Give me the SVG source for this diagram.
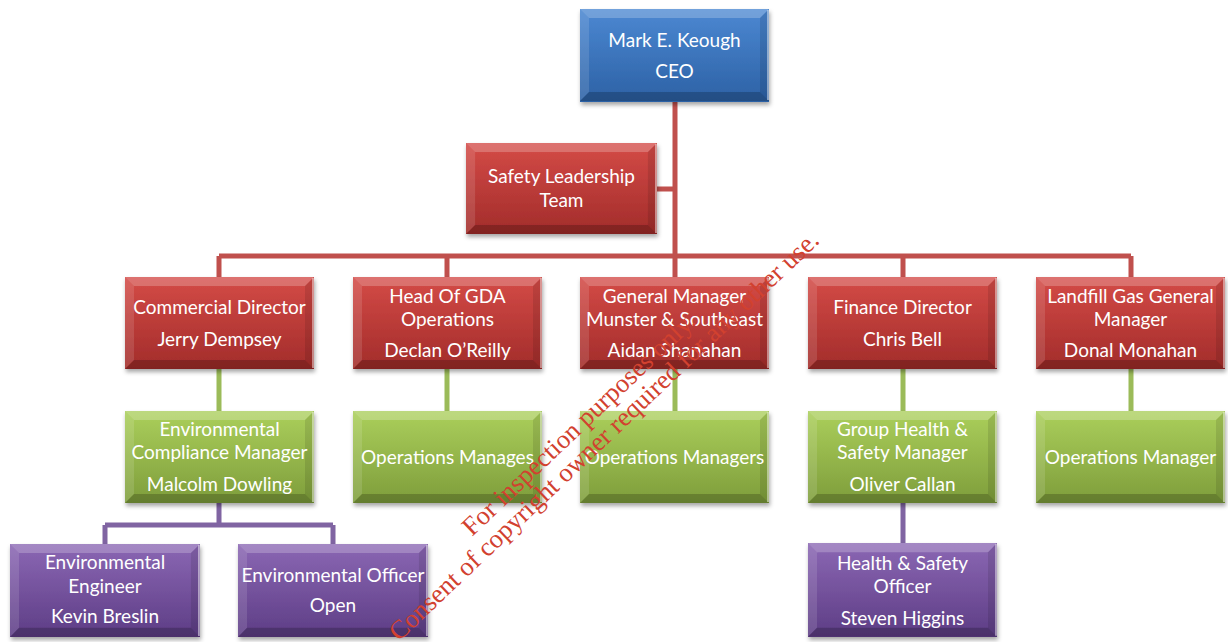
<svg xmlns="http://www.w3.org/2000/svg" width="1228" height="642" viewBox="0 0 1228 642">
<style>
.t{font-family:Lato,"Open Sans","Liberation Sans",sans-serif;font-size:19px;fill:#fff;text-anchor:middle}
.red{stroke:#c0504d;stroke-width:5;fill:none}
.grn{stroke:#9bbb59;stroke-width:5;fill:none}
.pur{stroke:#8064a2;stroke-width:5;fill:none}
.wm{font-family:"Liberation Serif","Times New Roman",serif;font-size:26.4px;fill:#d2412f}
</style>
<defs>
<linearGradient id="gB" x1="0" y1="0" x2="0" y2="1"><stop offset="0" stop-color="#4c88d2"/><stop offset="1" stop-color="#2c61a5"/></linearGradient>
<linearGradient id="gR" x1="0" y1="0" x2="0" y2="1"><stop offset="0" stop-color="#d44b47"/><stop offset="1" stop-color="#a22c2a"/></linearGradient>
<linearGradient id="gG" x1="0" y1="0" x2="0" y2="1"><stop offset="0" stop-color="#abcf5b"/><stop offset="1" stop-color="#7e9d3b"/></linearGradient>
<linearGradient id="gP" x1="0" y1="0" x2="0" y2="1"><stop offset="0" stop-color="#8b67b4"/><stop offset="1" stop-color="#5d3d85"/></linearGradient>
<filter id="sh" x="-10%" y="-10%" width="130%" height="130%"><feDropShadow dx="1" dy="3" stdDeviation="2" flood-color="#000" flood-opacity="0.35"/></filter>
<g id="bev">
<polygon points="0,0 189,0 180,9 9,9" fill="#fff" opacity="0.22"/>
<polygon points="0,0 9,9 9,83 0,92" fill="#fff" opacity="0.12"/>
<polygon points="189,0 189,92 180,83 180,9" fill="#000" opacity="0.1"/>
<polygon points="0,92 189,92 180,83 9,83" fill="#000" opacity="0.2"/>
<line x1="188" y1="1" x2="188" y2="91" stroke="#fff" stroke-opacity="0.6" stroke-width="1.5"/>
</g>
</defs>
<rect width="1228" height="642" fill="#fff"/>
<g id="connectors">
<path class="red" d="M675,101 V256 M657,189 H675 M219,256 H1131 M219,256 V277 M447,256 V277 M675,256 V277 M903,256 V277 M1131,256 V277"/>
<path class="grn" d="M219,369 V411 M447,369 V411 M675,369 V411 M903,369 V411 M1131,369 V411"/>
<path class="pur" d="M219,503 V525 M105,525 H333 M105,525 V544 M333,525 V544 M903,503 V543"/>
</g>
<g id="ceo"><rect x="580" y="9" width="189" height="93" fill="url(#gB)" filter="url(#sh)"/><use href="#bev" transform="translate(580,9)"/>
<text class="t" x="674.5" y="47">Mark E. Keough</text><text class="t" x="674.5" y="78">CEO</text></g>
<g id="safety"><rect x="466" y="143" width="191" height="91" fill="url(#gR)" filter="url(#sh)"/><use href="#bev" transform="translate(466,143) scale(1.0106,0.989)"/>
<text class="t" x="561.5" y="183">Safety Leadership</text><text class="t" x="561.5" y="207">Team</text></g>
<g id="commercial"><rect x="125" y="277" width="189" height="92" fill="url(#gR)" filter="url(#sh)"/><use href="#bev" transform="translate(125,277)"/>
<text class="t" x="219.5" y="314">Commercial Director</text><text class="t" x="219.5" y="346">Jerry Dempsey</text></g>
<g id="gda"><rect x="353" y="277" width="189" height="92" fill="url(#gR)" filter="url(#sh)"/><use href="#bev" transform="translate(353,277)"/>
<text class="t" x="447.5" y="303">Head Of GDA</text><text class="t" x="447.5" y="326">Operations</text><text class="t" x="447.5" y="357">Declan O’Reilly</text></g>
<g id="munster"><rect x="580" y="277" width="189" height="92" fill="url(#gR)" filter="url(#sh)"/><use href="#bev" transform="translate(580,277)"/>
<text class="t" x="674.5" y="303">General Manager</text><text class="t" x="674.5" y="326">Munster &amp; Southeast</text><text class="t" x="674.5" y="357">Aidan Shanahan</text></g>
<g id="finance"><rect x="808" y="277" width="189" height="92" fill="url(#gR)" filter="url(#sh)"/><use href="#bev" transform="translate(808,277)"/>
<text class="t" x="902.5" y="314">Finance Director</text><text class="t" x="902.5" y="346">Chris Bell</text></g>
<g id="landfill"><rect x="1036" y="277" width="189" height="92" fill="url(#gR)" filter="url(#sh)"/><use href="#bev" transform="translate(1036,277)"/>
<text class="t" x="1130.5" y="303">Landfill Gas General</text><text class="t" x="1130.5" y="326">Manager</text><text class="t" x="1130.5" y="357">Donal Monahan</text></g>
<g id="envcomp"><rect x="125" y="411" width="189" height="92" fill="url(#gG)" filter="url(#sh)"/><use href="#bev" transform="translate(125,411)"/>
<text class="t" x="219.5" y="436">Environmental</text><text class="t" x="219.5" y="459">Compliance Manager</text><text class="t" x="219.5" y="491">Malcolm Dowling</text></g>
<g id="opsgda"><rect x="353" y="411" width="189" height="92" fill="url(#gG)" filter="url(#sh)"/><use href="#bev" transform="translate(353,411)"/>
<text class="t" x="447.5" y="464">Operations Manages</text></g>
<g id="opsmunster"><rect x="580" y="411" width="189" height="92" fill="url(#gG)" filter="url(#sh)"/><use href="#bev" transform="translate(580,411)"/>
<text class="t" x="674.5" y="464">Operations Managers</text></g>
<g id="grouphs"><rect x="808" y="411" width="189" height="92" fill="url(#gG)" filter="url(#sh)"/><use href="#bev" transform="translate(808,411)"/>
<text class="t" x="902.5" y="436">Group Health &amp;</text><text class="t" x="902.5" y="459">Safety Manager</text><text class="t" x="902.5" y="491">Oliver Callan</text></g>
<g id="opslandfill"><rect x="1036" y="411" width="189" height="92" fill="url(#gG)" filter="url(#sh)"/><use href="#bev" transform="translate(1036,411)"/>
<text class="t" x="1130.5" y="464">Operations Manager</text></g>
<g id="enveng"><rect x="10" y="544" width="190" height="93" fill="url(#gP)" filter="url(#sh)"/><use href="#bev" transform="translate(10,544) scale(1.005,1.01)"/>
<text class="t" x="105" y="569">Environmental</text><text class="t" x="105" y="593">Engineer</text><text class="t" x="105" y="623">Kevin Breslin</text></g>
<g id="envoff"><rect x="238" y="544" width="190" height="93" fill="url(#gP)" filter="url(#sh)"/><use href="#bev" transform="translate(238,544) scale(1.005,1.01)"/>
<text class="t" x="333" y="582">Environmental Officer</text><text class="t" x="333" y="612">Open</text></g>
<g id="hso"><rect x="808" y="543" width="189" height="94" fill="url(#gP)" filter="url(#sh)"/><use href="#bev" transform="translate(808,543) scale(1,1.02)"/>
<text class="t" x="902.5" y="570">Health &amp; Safety</text><text class="t" x="902.5" y="593">Officer</text><text class="t" x="902.5" y="625">Steven Higgins</text></g>
<g id="watermark">
<text class="wm" transform="translate(472,537) rotate(-43.5)">For inspection purposes only.</text>
<text class="wm" transform="translate(399,642) rotate(-43.5)">Consent of copyright owner required for any other use.</text>
</g>
</svg>
